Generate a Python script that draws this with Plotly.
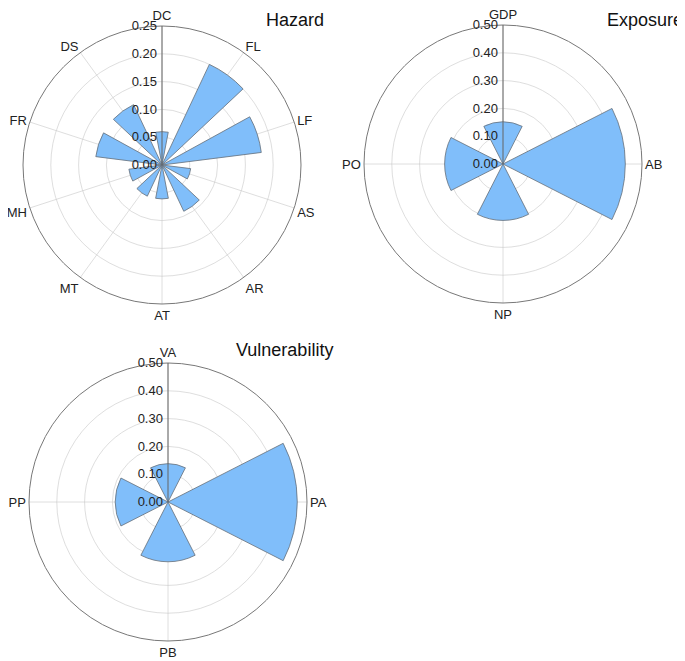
import plotly.graph_objects as go

# data
haz_cats = ["DC", "FL", "LF", "AS", "AR", "AT", "MT", "MH", "FR", "DS"]
haz_vals = [0.06, 0.20, 0.18, 0.052, 0.092, 0.061, 0.062, 0.06, 0.12, 0.12]

exp_cats = ["GDP", "AB", "NP", "PO"]
exp_vals = [0.152, 0.44, 0.203, 0.21]

vul_cats = ["VA", "PA", "PB", "PP"]
vul_vals = [0.138, 0.465, 0.215, 0.19]

FONT = "Arial, Liberation Sans, sans-serif"
BAR_FILL = "rgb(128,190,250)"
BAR_LINE = "rgb(100,110,120)"

# the page puts the figure 8px in from the top-left corner
W, H = 677, 653


def bars(cats, vals, subplot):
    return go.Barpolar(
        r=vals, theta=cats, width=0.6,
        marker=dict(color=BAR_FILL, line=dict(color=BAR_LINE, width=0.8)),
        subplot=subplot, showlegend=False,
    )


def polar_layout(cx, cy, rmax, dtick, rad=139):
    # cx, cy: circle centre in figure pixels from the top-left
    return dict(
        domain=dict(x=[(cx - rad) / W, (cx + rad) / W],
                    y=[(H - cy - rad) / H, (H - cy + rad) / H]),
        bgcolor="white",
        angularaxis=dict(
            direction="clockwise", rotation=90,
            showline=True, linecolor="rgb(120,120,120)", linewidth=1,
            gridcolor="rgba(200,200,200,0.6)", ticks="",
            layer="above traces",
            tickfont=dict(family=FONT, size=13, color="#222"),
        ),
        radialaxis=dict(
            range=[0, rmax], dtick=dtick, tickformat=".2f", angle=90,
            tickangle=90,
            showline=True, linecolor="rgb(100,100,100)", linewidth=1,
            gridcolor="rgba(200,200,200,0.6)", ticks="",
            side="counterclockwise", layer="above traces",
            tickfont=dict(family=FONT, size=13, color="#222"),
        ),
    )


fig = go.Figure()
fig.add_trace(bars(haz_cats, haz_vals, "polar"))
fig.add_trace(bars(exp_cats, exp_vals, "polar2"))
fig.add_trace(bars(vul_cats, vul_vals, "polar3"))

fig.update_layout(
    width=W, height=H,
    margin=dict(l=0, r=0, t=0, b=0),
    paper_bgcolor="white",
    font=dict(family=FONT),
    polar=polar_layout(154, 157, 0.25, 0.05),
    polar2=polar_layout(495, 156, 0.5, 0.1),
    polar3=polar_layout(160, 494, 0.5, 0.1),
    annotations=[
        dict(text="Hazard", x=318 / W, y=1, xref="paper", yref="paper",
             xanchor="right", yanchor="top", showarrow=False,
             font=dict(family=FONT, size=18, color="#111")),
        dict(text="Exposure", x=1, y=1, xref="paper", yref="paper",
             xanchor="right", yanchor="top", showarrow=False,
             font=dict(family=FONT, size=18, color="#111")),
        dict(text="Vulnerability", x=327 / W, y=1 - 342 / H, xref="paper", yref="paper",
             xanchor="right", yanchor="middle", showarrow=False,
             font=dict(family=FONT, size=18, color="#111")),
    ],
)

fig.write_html("out.html")
